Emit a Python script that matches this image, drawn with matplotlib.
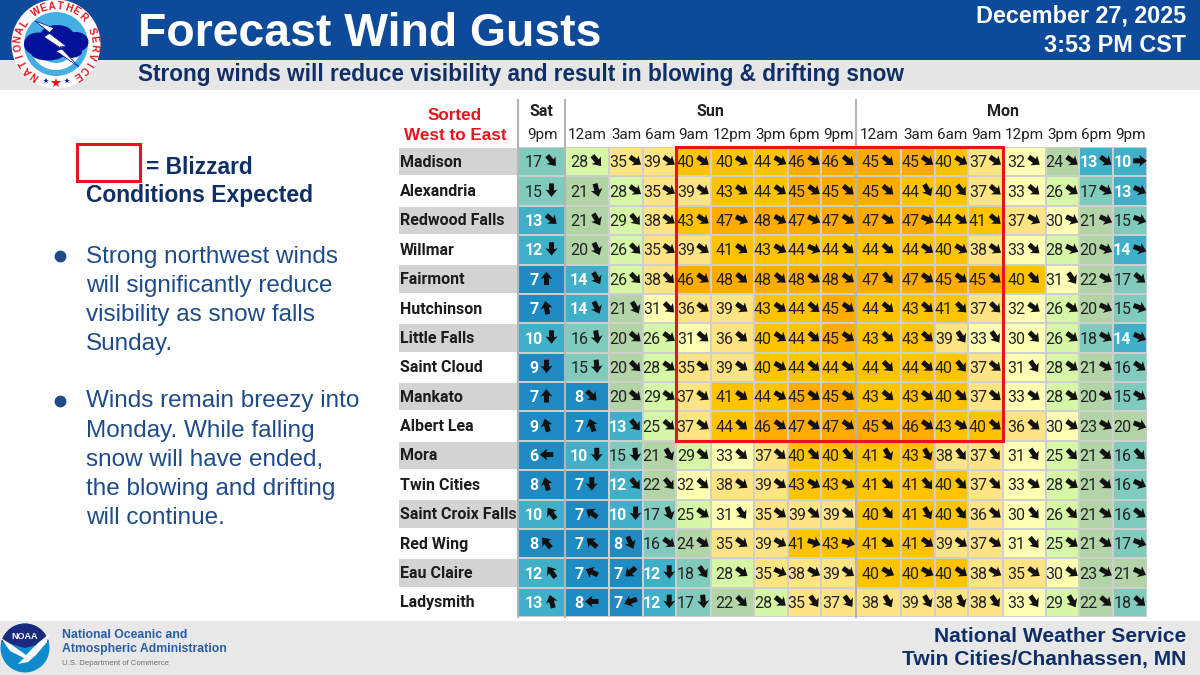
import numpy as np
import matplotlib
matplotlib.use("Agg")
import matplotlib.pyplot as plt
from matplotlib.colors import ListedColormap, BoundaryNorm
from matplotlib.patches import Circle, Rectangle, Polygon, Wedge, Ellipse

# --- data ---
locations = ["Madison", "Alexandria", "Redwood Falls", "Willmar", "Fairmont", "Hutchinson",
             "Little Falls", "Saint Cloud", "Mankato", "Albert Lea", "Mora", "Twin Cities",
             "Saint Croix Falls", "Red Wing", "Eau Claire", "Ladysmith"]
hours = ["9pm", "12am", "3am", "6am", "9am", "12pm", "3pm", "6pm", "9pm",
         "12am", "3am", "6am", "9am", "12pm", "3pm", "6pm", "9pm"]
days = ["Sat", "Sun", "Mon"]

gust_madison = [17, 28, 35, 39, 40, 40, 44, 46, 46, 45, 45, 40, 37, 32, 24, 13, 10]
gust_alexandria = [15, 21, 28, 35, 39, 43, 44, 45, 45, 45, 44, 40, 37, 33, 26, 17, 13]
gust_redwood = [13, 21, 29, 38, 43, 47, 48, 47, 47, 47, 47, 44, 41, 37, 30, 21, 15]
gust_willmar = [12, 20, 26, 35, 39, 41, 43, 44, 44, 44, 44, 40, 38, 33, 28, 20, 14]
gust_fairmont = [7, 14, 26, 38, 46, 48, 48, 48, 48, 47, 47, 45, 45, 40, 31, 22, 17]
gust_hutchinson = [7, 14, 21, 31, 36, 39, 43, 44, 45, 44, 43, 41, 37, 32, 26, 20, 15]
gust_littlefalls = [10, 16, 20, 26, 31, 36, 40, 44, 45, 43, 43, 39, 33, 30, 26, 18, 14]
gust_stcloud = [9, 15, 20, 28, 35, 39, 40, 44, 44, 44, 44, 40, 37, 31, 28, 21, 16]
gust_mankato = [7, 8, 20, 29, 37, 41, 44, 45, 45, 43, 43, 40, 37, 33, 28, 20, 15]
gust_albertlea = [9, 7, 13, 25, 37, 44, 46, 47, 47, 45, 46, 43, 40, 36, 30, 23, 20]
gust_mora = [6, 10, 15, 21, 29, 33, 37, 40, 40, 41, 43, 38, 37, 31, 25, 21, 16]
gust_twincities = [8, 7, 12, 22, 32, 38, 39, 43, 43, 41, 41, 40, 37, 33, 28, 21, 16]
gust_stcroix = [10, 7, 10, 17, 25, 31, 35, 39, 39, 40, 41, 40, 36, 30, 26, 21, 16]
gust_redwing = [8, 7, 8, 16, 24, 35, 39, 41, 43, 41, 41, 39, 37, 31, 25, 21, 17]
gust_eauclaire = [12, 7, 7, 12, 18, 28, 35, 38, 39, 40, 40, 40, 38, 35, 30, 23, 21]
gust_ladysmith = [13, 8, 7, 12, 17, 22, 28, 35, 37, 38, 39, 38, 38, 33, 29, 22, 18]

# direction each arrow points, degrees clockwise from north
dir_madison = [140, 140, 125, 125, 125, 120, 120, 125, 130, 130, 125, 120, 125, 125, 125, 125, 90]
dir_alexandria = [180, 165, 125, 120, 125, 125, 125, 125, 130, 130, 150, 140, 130, 130, 125, 120, 115]
dir_redwood = [130, 150, 140, 125, 125, 115, 120, 115, 125, 125, 115, 125, 130, 120, 115, 115, 110]
dir_willmar = [180, 155, 135, 125, 125, 125, 120, 115, 130, 130, 125, 120, 125, 130, 115, 115, 110]
dir_fairmont = [0, 150, 135, 135, 125, 130, 130, 125, 125, 140, 125, 125, 130, 135, 145, 120, 130]
dir_hutchinson = [350, 155, 150, 135, 125, 125, 125, 130, 125, 130, 130, 135, 135, 125, 125, 115, 110]
dir_littlefalls = [180, 170, 130, 125, 130, 130, 125, 130, 125, 130, 130, 145, 145, 135, 125, 120, 115]
dir_stcloud = [180, 175, 135, 125, 125, 125, 120, 130, 125, 135, 130, 140, 130, 145, 125, 120, 125]
dir_mankato = [0, 135, 130, 125, 125, 125, 120, 125, 125, 130, 125, 130, 130, 125, 125, 120, 120]
dir_albertlea = [345, 340, 140, 130, 125, 130, 125, 125, 125, 130, 125, 120, 130, 130, 125, 120, 110]
dir_mora = [270, 180, 175, 150, 130, 130, 130, 135, 140, 150, 150, 140, 140, 145, 135, 130, 135]
dir_twincities = [345, 180, 140, 140, 130, 125, 125, 120, 120, 135, 140, 135, 135, 125, 125, 130, 115]
dir_stcroix = [325, 305, 180, 160, 125, 145, 125, 130, 130, 140, 150, 140, 130, 140, 135, 125, 125]
dir_redwing = [320, 310, 155, 125, 125, 125, 120, 110, 105, 125, 125, 125, 125, 140, 125, 125, 110]
dir_eauclaire = [325, 295, 230, 180, 145, 125, 115, 120, 125, 120, 120, 125, 120, 125, 125, 120, 115]
dir_ladysmith = [345, 270, 250, 180, 175, 135, 130, 145, 145, 150, 150, 155, 145, 145, 150, 130, 130]

gusts = np.array([gust_madison, gust_alexandria, gust_redwood, gust_willmar, gust_fairmont,
                  gust_hutchinson, gust_littlefalls, gust_stcloud, gust_mankato, gust_albertlea,
                  gust_mora, gust_twincities, gust_stcroix, gust_redwing, gust_eauclaire, gust_ladysmith])
bearings = np.array([dir_madison, dir_alexandria, dir_redwood, dir_willmar, dir_fairmont,
                     dir_hutchinson, dir_littlefalls, dir_stcloud, dir_mankato, dir_albertlea,
                     dir_mora, dir_twincities, dir_stcroix, dir_redwing, dir_eauclaire, dir_ladysmith])

# --- layout and colours ---
col_widths = [47, 43.5, 34, 33.5, 34.5, 43, 34, 33.5, 35, 44.5, 34.5, 33, 35, 42.5, 33.5, 34, 34]
levels = [0, 10, 15, 20, 25, 30, 35, 40, 45, 60]
level_colors = ["#1e8cc2", "#3fb0c8", "#80cbbb", "#b2d4a6", "#d6f7a6",
                "#ffffb4", "#ffe483", "#ffc300", "#ffab00"]
NAVY = "#0f2f66"
TEXT_BLUE = "#1f4b8a"
HEAD = "Liberation Sans"
TABLE = "Roboto"

fig = plt.figure(figsize=(12, 6.75), dpi=100)

# chrome, drawn in pixel coordinates
bg = fig.add_axes([0, 0, 1, 1])
bg.set_xlim(0, 1200)
bg.set_ylim(675, 0)
bg.axis("off")
bg.add_patch(Rectangle((0, 0), 1200, 60, color="#0d4a99", lw=0))
bg.add_patch(Rectangle((0, 60), 1200, 30, color="#e6e6e6", lw=0))
bg.add_patch(Rectangle((0, 621), 1200, 54, color="#e8e8e8", lw=0))

bg.text(138, 46.5, "Forecast Wind Gusts", color="white", family=HEAD, weight="bold", fontsize=33.4, va="baseline")
bg.text(1186, 22, "December 27, 2025", color="white", family=HEAD, weight="bold", fontsize=16.8, va="baseline", ha="right")
bg.text(1186, 52, "3:53 PM CST", color="white", family=HEAD, weight="bold", fontsize=16.8, va="baseline", ha="right")
bg.text(138, 81, "Strong winds will reduce visibility and result in blowing & drifting snow",
        color=NAVY, family=HEAD, weight="bold", fontsize=16.3, va="baseline")

# key and bullet text
bg.add_patch(Rectangle((77, 144), 63, 36.5, fill=False, ec="#e8141c", lw=2.2))
bg.text(146, 174.5, "= Blizzard", color=NAVY, family=HEAD, weight="bold", fontsize=16.4, va="baseline")
bg.text(86, 202, "Conditions Expected", color=NAVY, family=HEAD, weight="bold", fontsize=16.5, va="baseline")
bullet_one = ["Strong northwest winds", "will significantly reduce", "visibility as snow falls", "Sunday."]
bullet_two = ["Winds remain breezy into", "Monday. While falling", "snow will have ended,", "the blowing and drifting", "will continue."]
for top, lines in [(256, bullet_one), (401, bullet_two)]:
    bg.plot([60], [top], "o", color=TEXT_BLUE, ms=7.5)
    for k, line in enumerate(lines):
        bg.text(86, top + 6.5 + k * 29.2, line, color=TEXT_BLUE, family=HEAD, fontsize=17.5, va="baseline")

# NWS seal
bg.add_patch(Circle((56, 44), 44.5, color="white", ec="none", zorder=3))
bg.add_patch(Circle((56, 44), 32, color="#45aee2", ec="none", zorder=3))
bg.add_patch(Wedge((56, 44), 26, 10, 170, color="white", ec="none", zorder=3))
bg.add_patch(Wedge((56, 44), 19, 10, 170, color="#45aee2", ec="none", zorder=3))
for cx, cy, w, h in [(38, 44, 28, 23), (57, 36, 34, 22), (76, 42, 25, 20), (48, 53, 34, 15), (70, 52, 24, 12)]:
    bg.add_patch(Ellipse((cx, cy), w, h, color="#04129a", ec="none", zorder=4))
bg.add_patch(Polygon([(35, 21), (54, 28), (49, 33), (66, 46), (60, 47), (79, 67), (56, 51), (62, 49), (44, 37), (50, 33)],
                     closed=True, fc="white", ec="#04129a", lw=0.5, zorder=5))
ring = "NATIONAL WEATHER SERVICE"
for k, ch in enumerate(ring):
    ang = np.radians(214 + k * 292 / (len(ring) - 1))
    bg.text(56 + 38 * np.sin(ang), 44 - 38 * np.cos(ang), ch, color="#e8141c", family=HEAD, weight="bold",
            fontsize=7.2, ha="center", va="center", rotation=-np.degrees(ang), rotation_mode="anchor", zorder=6)
bg.plot([46, 67], [81, 81], "*", color="#04129a", ms=4, mew=0, zorder=6)
bg.plot([56], [82.5], "*", color="#e8141c", ms=7, mew=0, zorder=6)

# NOAA seal and footer
bg.add_patch(Circle((25, 648), 24.5, color="#0f8bcc", ec="none", zorder=3))
bg.add_patch(Wedge((25, 648), 24.5, 195, 345, color="#1a2b7d", ec="none", zorder=4))
bg.add_patch(Polygon([(1, 638), (12, 645), (26, 655), (38, 643), (49, 634), (47, 642), (36, 655), (28, 662), (18, 664), (24, 658), (10, 651)],
                     closed=True, fc="white", ec="none", zorder=5))
bg.text(25, 636.5, "NOAA", color="white", family=HEAD, weight="bold", fontsize=6.5, ha="center", va="center", zorder=6)
bg.text(62, 635, "National Oceanic and", color="#2a5ca3", family=HEAD, weight="bold", fontsize=8.8, va="center")
bg.text(62, 649, "Atmospheric Administration", color="#2a5ca3", family=HEAD, weight="bold", fontsize=8.8, va="center")
bg.text(62, 663.5, "U.S. Department of Commerce", color="#707070", family=HEAD, fontsize=5.6, va="center")
bg.text(1186, 642, "National Weather Service", color=NAVY, family=HEAD, weight="bold", fontsize=15.1, ha="right", va="baseline")
bg.text(1186, 665, "Twin Cities/Chanhassen, MN", color=NAVY, family=HEAD, weight="bold", fontsize=15.1, ha="right", va="baseline")

# table axes: x runs in pixels from the left of the first column, y in rows
x_edges = np.concatenate([[0], np.cumsum(col_widths)])
n_rows = len(locations)
tbl_left, tbl_top, tbl_h = 518, 147, 470
ax = fig.add_axes([tbl_left / 1200, 1 - (tbl_top + tbl_h) / 675, x_edges[-1] / 1200, tbl_h / 675])
ax.patch.set_alpha(0)
ax.set_xlim(0, x_edges[-1])
ax.set_ylim(n_rows, 0)
ax.axis("off")

cmap = ListedColormap(level_colors)
norm = BoundaryNorm(levels, cmap.N)
ax.pcolormesh(x_edges, np.arange(n_rows + 1), gusts, cmap=cmap, norm=norm, edgecolors="#cfcfcf",
              linewidth=1.4, antialiased=True)

centers = (x_edges[:-1] + x_edges[1:]) / 2
for r in range(n_rows):
    if r % 2 == 0:
        ax.add_patch(Rectangle((399 - tbl_left, r + 0.03), 118, 0.94, color="#d3d3d3", lw=0, clip_on=False))
    ax.text(400 - tbl_left, r + 0.67, locations[r], family=TABLE, weight="bold", fontsize=11.5, color="#1c1c1c",
            va="baseline", clip_on=False)
    for c in range(len(hours)):
        v = gusts[r, c]
        ax.text(centers[c] + (1.5 if v >= 10 else -3), r + 0.69, str(v), family=TABLE, fontsize=11.5,
                ha="right", va="baseline", color="white" if v < 15 else "#222222",
                weight="bold" if v < 15 else "normal")

# wind arrows
arrow_x = np.array([centers[c] + (10 if gusts[r, c] >= 10 else 5) for r in range(n_rows) for c in range(len(hours))])
arrow_y = np.array([r + 0.47 for r in range(n_rows) for c in range(len(hours))])
rad = np.radians(bearings).ravel()
ax.quiver(arrow_x, arrow_y, np.sin(rad), np.cos(rad), angles="uv", units="dots", scale_units="dots", scale=1 / 13.5,
          width=5, headwidth=2.4, headlength=1.5, headaxislength=1.3, pivot="middle", color="#111111", zorder=5)

# day and hour headers
for c, h in enumerate(hours):
    ax.text(centers[c] + 0.5, -0.4, h, family=TABLE, fontsize=11, ha="center", va="center", color="#222222", clip_on=False)
for d, label in zip([0, 1, 9], days):
    span = {0: (0, 1), 1: (1, 9), 9: (9, 13)}[d]
    mid = (x_edges[span[0]] + x_edges[span[1]]) / 2
    if label == "Mon":
        mid = x_edges[13]
    ax.text(mid, -1.2, label, family=TABLE, weight="bold", fontsize=11.5, ha="center", va="center", color="#222222", clip_on=False)
for sep in [0, 1, 9]:
    ax.plot([x_edges[sep]] * 2, [-1.6, n_rows], color="#b4b4b4", lw=1.5, clip_on=False, zorder=4)

ax.text(455 - tbl_left, -1.06, "Sorted", color="#e8141c", family=HEAD, weight="bold", fontsize=12.3, ha="center", va="center", clip_on=False)
ax.text(455 - tbl_left, -0.38, "West to East", color="#e8141c", family=HEAD, weight="bold", fontsize=12.3, ha="center", va="center", clip_on=False)

# blizzard outline
ax.add_patch(Rectangle((x_edges[4], 0), x_edges[13] - x_edges[4], 10, fill=False, ec="#e8141c", lw=2.2, clip_on=False, zorder=6))

fig.savefig("out.png", dpi=100)
